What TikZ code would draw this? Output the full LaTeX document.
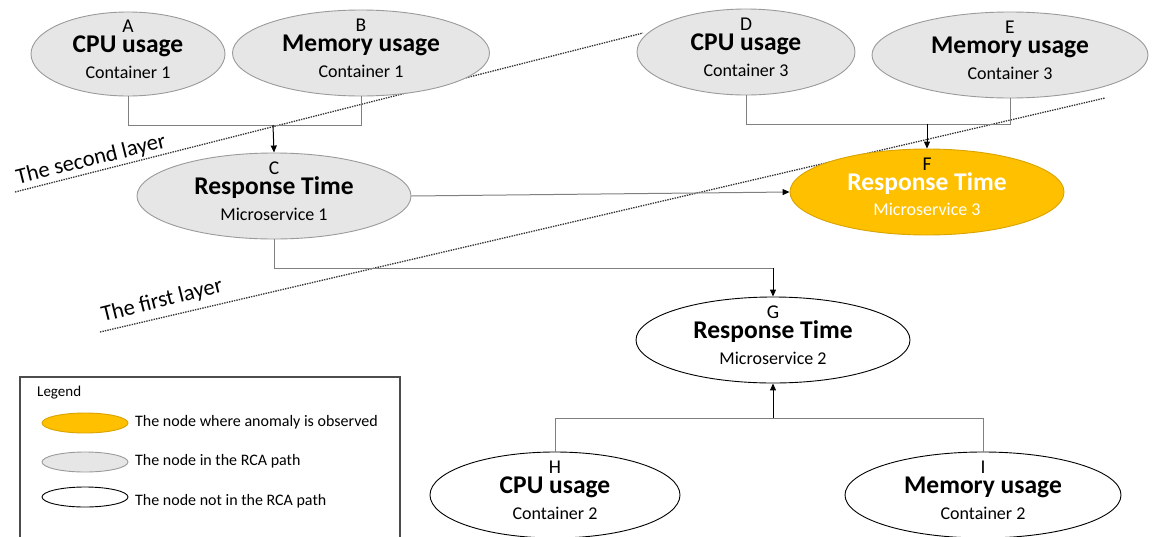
\documentclass[tikz,border=0pt]{standalone}
\usepackage{fontspec}
\setmainfont{Carlito}
\usetikzlibrary{arrows.meta,shapes.geometric}
\definecolor{ngray}{HTML}{E6E6E6}
\definecolor{ngrayb}{HTML}{9A9A9A}
\definecolor{norange}{HTML}{FFC000}
\definecolor{norangeb}{HTML}{D9A300}
\definecolor{lgray}{HTML}{808080}
\tikzset{
  grayn/.style={ellipse, draw=ngrayb, fill=ngray, line width=0.9pt, inner sep=0pt},
  orangen/.style={ellipse, draw=norangeb, fill=norange, line width=0.9pt, inner sep=0pt},
  whiten/.style={ellipse, draw=black, fill=white, line width=0.9pt, inner sep=0pt},
  lettertext/.style={font=\fontsize{19.5}{19.5}\selectfont, inner sep=0pt},
  titletext/.style={font=\fontsize{25.5}{25.5}\selectfont\bfseries, inner sep=0pt},
  subtext/.style={font=\fontsize{18}{18}\selectfont, inner sep=0pt},
  conn/.style={draw=lgray, line width=1pt},
  arr/.style={draw=black, line width=1pt, -{Triangle[length=7pt,width=6pt]}},
  garr/.style={draw=lgray, line width=1pt, -{Triangle[length=7pt,width=6pt,color=black]}},
  layerline/.style={draw=black!80, line width=1.3pt, dash pattern=on 1.4pt off 1.1pt},
  layertext/.style={font=\fontsize{22.5}{22.5}\selectfont, inner sep=0pt, rotate=14},
  legtext/.style={font=\fontsize{16}{16}\selectfont, inner sep=0pt, anchor=west},
}
% name, x, y, width, height, style, letter, title, sub
\newcommand{\mnode}[9]{%
  \node[#6, minimum width=#4pt, minimum height=#5pt] (#1) at (#2,#3) {};
  \node[lettertext] (#1-l) at (#2,#3-28) {#7};
  \node[titletext] (#1-t) at (#2,#3-8) {#8};
  \node[subtext] (#1-s) at (#2,#3+18) {#9};
}
\newcommand{\fnode}[9]{%
  \node[#6, minimum width=#4pt, minimum height=#5pt] (#1) at (#2,#3) {};
  \node[lettertext] (#1-l) at (#2,#3-28) {#7};
  \node[titletext, text=white] (#1-t) at (#2,#3-8) {#8};
  \node[subtext, text=white] (#1-s) at (#2,#3+17) {#9};
}
\begin{document}
\begin{tikzpicture}[x=1pt, y=-1pt]
\useasboundingbox (0,0) rectangle (1152,536);

% layer lines
\coordinate (L2a) at (15,192);
\coordinate (L2b) at (643,33);
\coordinate (L1a) at (100,332);
\coordinate (L1b) at (1105,98);
\draw[layerline] (L2a) -- (L2b);
\draw[layerline] (L1a) -- (L1b);
\node[layertext] (t2) at (91,160) {The second layer};
\node[layertext] (t1) at (162,301) {The first layer};

% nodes
\mnode{A}{128}{54}{194}{84}{grayn}{A}{CPU usage}{Container 1}
\mnode{B}{361}{53}{257}{86}{grayn}{B}{Memory usage}{Container 1}
\mnode{D}{746}{52}{218}{86}{grayn}{D}{CPU usage}{Container 3}
\mnode{E}{1010}{55}{276}{86}{grayn}{E}{Memory usage}{Container 3}
\mnode{C}{274}{196}{274}{86}{grayn}{C}{Response Time}{Microservice 1}
\fnode{F}{927}{192}{274}{86}{orangen}{F}{Response Time}{Microservice 3}
\mnode{G}{773}{340}{274}{86}{whiten}{G}{Response Time}{Microservice 2}
\mnode{H}{555}{495}{250}{86}{whiten}{H}{CPU usage}{Container 2}
\mnode{I}{983}{495}{276}{86}{whiten}{I}{Memory usage}{Container 2}

% connectors
\coordinate (ABm) at (273,125);
\draw[conn] (A.south) |- (B.south|-ABm) -- (B.south);
\draw[arr] (ABm) -- (C.north);

\coordinate (DEm) at (927,124);
\draw[conn] (D.south) |- (E.south|-DEm) -- (E.south);
\draw[arr] (DEm) -- (F.north);

\draw[garr] (C.east) -- (F.west);

\coordinate (CGm) at (773,268);
\draw[conn] (C.south) |- (CGm);
\draw[arr] (CGm) -- (G.north);

\coordinate (HIm) at (773,418);
\draw[conn] (H.north) |- (I.north|-HIm) -- (I.north);
\draw[arr] (HIm) -- (G.south);

% legend
\draw[draw=black!70, line width=1.2pt] (20,540) |- (400,377) -- (400,540);
\node[legtext, font=\fontsize{15}{15}\selectfont] (leg) at (37,393) {Legend};
\node[orangen, minimum width=86pt, minimum height=20pt] (lo) at (85,423) {};
\node[grayn, minimum width=86pt, minimum height=20pt] (lg) at (85,462) {};
\node[whiten, minimum width=86pt, minimum height=20pt] (lw) at (85,497) {};
\node[legtext] (lot) at (135,422) {The node where anomaly is observed};
\node[legtext] (lgt) at (135,461) {The node in the RCA path};
\node[legtext] (lwt) at (135,501) {The node not in the RCA path};
\end{tikzpicture}
\end{document}
